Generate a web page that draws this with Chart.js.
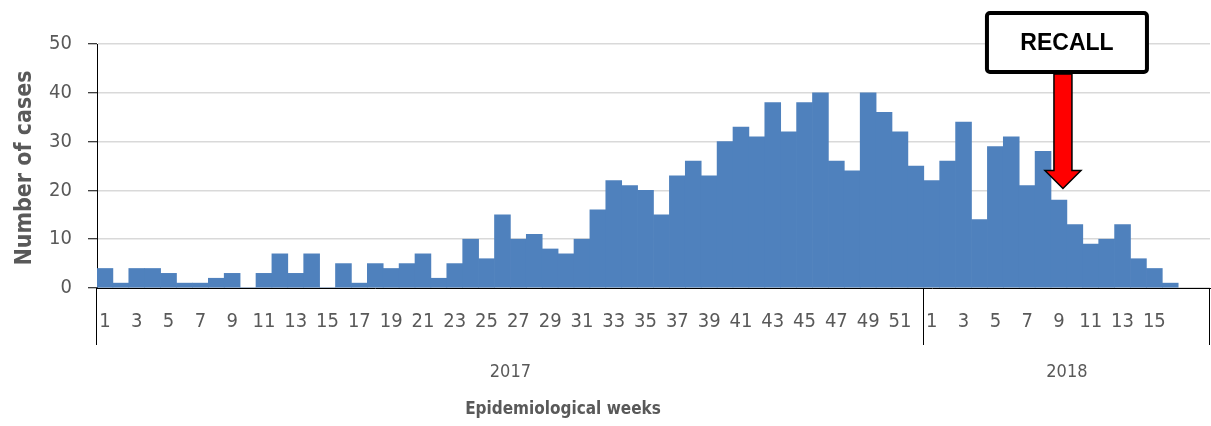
<!DOCTYPE html>
<html>
<head>
<meta charset="utf-8">
<script src="https://cdn.jsdelivr.net/npm/chart.js@4.4.1/dist/chart.umd.min.js"></script>
<style>
  html, body { margin: 0; padding: 0; background: #ffffff; }
  #wrap { width: 1211px; height: 426px; position: relative; }
</style>
</head>
<body>
<div id="wrap"><canvas id="casesChart" width="1211" height="426"></canvas></div>
<script>
// weekly case counts
const weeks2017 = Array.from({ length: 52 }, (_, i) => String(i + 1));
const cases2017 = [4, 1, 4, 4, 3, 1, 1, 2, 3, 0, 3, 7, 3, 7, 0, 5, 1, 5, 4, 5,
                   7, 2, 5, 10, 6, 15, 10, 11, 8, 7, 10, 16, 22, 21, 20, 15, 23, 26, 23, 30,
                   33, 31, 38, 32, 38, 40, 26, 24, 40, 36, 32, 25];
const weeks2018 = ['1', '2', '3', '4', '5', '6', '7', '8', '9', '10', '11', '12', '13', '14', '15', '16', '', ''];
const cases2018 = [22, 26, 34, 14, 29, 31, 21, 28, 18, 13, 9, 10, 13, 6, 4, 1, null, null];
const years = ['2017', '2018'];
const yTicks = [0, 10, 20, 30, 40, 50];
const recallWeekIndex = 52 + 8; // week 9 of 2018

const FONT = "'DejaVu Sans Condensed', 'Liberation Sans', sans-serif";
const GREY = '#595959';

const labels = weeks2017.concat(weeks2018);
const values = cases2017.concat(cases2018);

const overlay = {
    id: 'overlay',
    afterDraw(chart) {
        const { ctx, chartArea, scales } = chart;
        const x = scales.x, y = scales.y;
        const half = (x.getPixelForValue(1) - x.getPixelForValue(0)) / 2;
        const left = chartArea.left;
        const split = x.getPixelForValue(weeks2017.length) - half;
        const right = chartArea.right;
        ctx.save();

        // multi-level category separators
        ctx.strokeStyle = '#000';
        ctx.lineWidth = 1;
        [left, split, right].forEach(px => {
            ctx.beginPath();
            ctx.moveTo(Math.round(px) - 0.5, chartArea.bottom);
            ctx.lineTo(Math.round(px) - 0.5, chartArea.bottom + 57);
            ctx.stroke();
        });

        // year labels
        ctx.fillStyle = GREY;
        ctx.font = '18px ' + FONT;
        ctx.textAlign = 'center';
        ctx.textBaseline = 'middle';
        ctx.fillText(years[0], (left + split) / 2, 372);
        ctx.fillText(years[1], (split + right) / 2, 372);

        // axis titles
        ctx.font = 'bold 17px ' + FONT;
        ctx.fillText('Epidemiological weeks', 563, 410);
        ctx.save();
        ctx.translate(25, (chartArea.top + chartArea.bottom) / 2 + 2);
        ctx.rotate(-Math.PI / 2);
        ctx.font = 'bold 23px ' + FONT;
        ctx.fillText('Number of cases', 0, 0);
        ctx.restore();

        // RECALL callout
        const ax = x.getPixelForValue(recallWeekIndex) + 4;
        const boxCx = ax + 4;
        const bw = 160, bTop = 13, bBot = 72;
        ctx.lineWidth = 4;
        ctx.strokeStyle = '#000';
        ctx.fillStyle = '#fff';
        ctx.beginPath();
        ctx.roundRect(boxCx - bw / 2, bTop, bw, bBot - bTop, 3);
        ctx.fill();
        ctx.stroke();
        ctx.fillStyle = '#000';
        ctx.font = "bold 23px 'Liberation Sans', 'DejaVu Sans', sans-serif";
        ctx.fillText('RECALL', boxCx, (bTop + bBot) / 2 + 1);

        const tip = y.getPixelForValue(20.4);
        const sw = 9, hw = 18, headTop = tip - 18;
        ctx.beginPath();
        ctx.moveTo(ax - sw, bBot + 2);
        ctx.lineTo(ax + sw, bBot + 2);
        ctx.lineTo(ax + sw, headTop);
        ctx.lineTo(ax + hw, headTop);
        ctx.lineTo(ax, tip);
        ctx.lineTo(ax - hw, headTop);
        ctx.lineTo(ax - sw, headTop);
        ctx.closePath();
        ctx.fillStyle = '#ff0000';
        ctx.fill();
        ctx.lineWidth = 1.5;
        ctx.strokeStyle = '#000';
        ctx.stroke();
        ctx.restore();
    }
};

new Chart(document.getElementById('casesChart'), {
    type: 'bar',
    data: {
        labels,
        datasets: [{
            data: values,
            backgroundColor: '#4f81bd',
            borderWidth: 0,
            barPercentage: 1,
            categoryPercentage: 1
        }]
    },
    options: {
        responsive: false,
        animation: false,
        layout: { padding: { top: 44, left: 0, right: 1, bottom: 0 } },
        plugins: { legend: { display: false }, tooltip: { enabled: false } },
        scales: {
            x: {
                afterFit: s => { s.height = 138; s.paddingLeft = 0; s.paddingRight = 0; },
                grid: { display: false, drawTicks: false },
                border: { color: '#000', width: 1 },
                ticks: {
                    autoSkip: false,
                    maxRotation: 0,
                    minRotation: 0,
                    padding: 22,
                    color: GREY,
                    font: { size: 20, family: FONT },
                    callback: function (v, i) {
                        const l = labels[i];
                        return l !== '' && Number(l) % 2 === 1 ? l : '';
                    }
                }
            },
            y: {
                min: 0,
                max: 50,
                afterFit: s => { s.width = 97; },
                afterBuildTicks: s => { s.ticks = yTicks.map(v => ({ value: v })); },
                grid: { color: '#d9d9d9', lineWidth: 1.5, tickColor: '#000', tickLength: 9, tickWidth: 1 },
                border: { color: '#000', width: 1 },
                ticks: {
                    padding: 16,
                    color: GREY,
                    font: { size: 20, family: FONT }
                }
            }
        }
    },
    plugins: [overlay]
});
</script>
</body>
</html>
